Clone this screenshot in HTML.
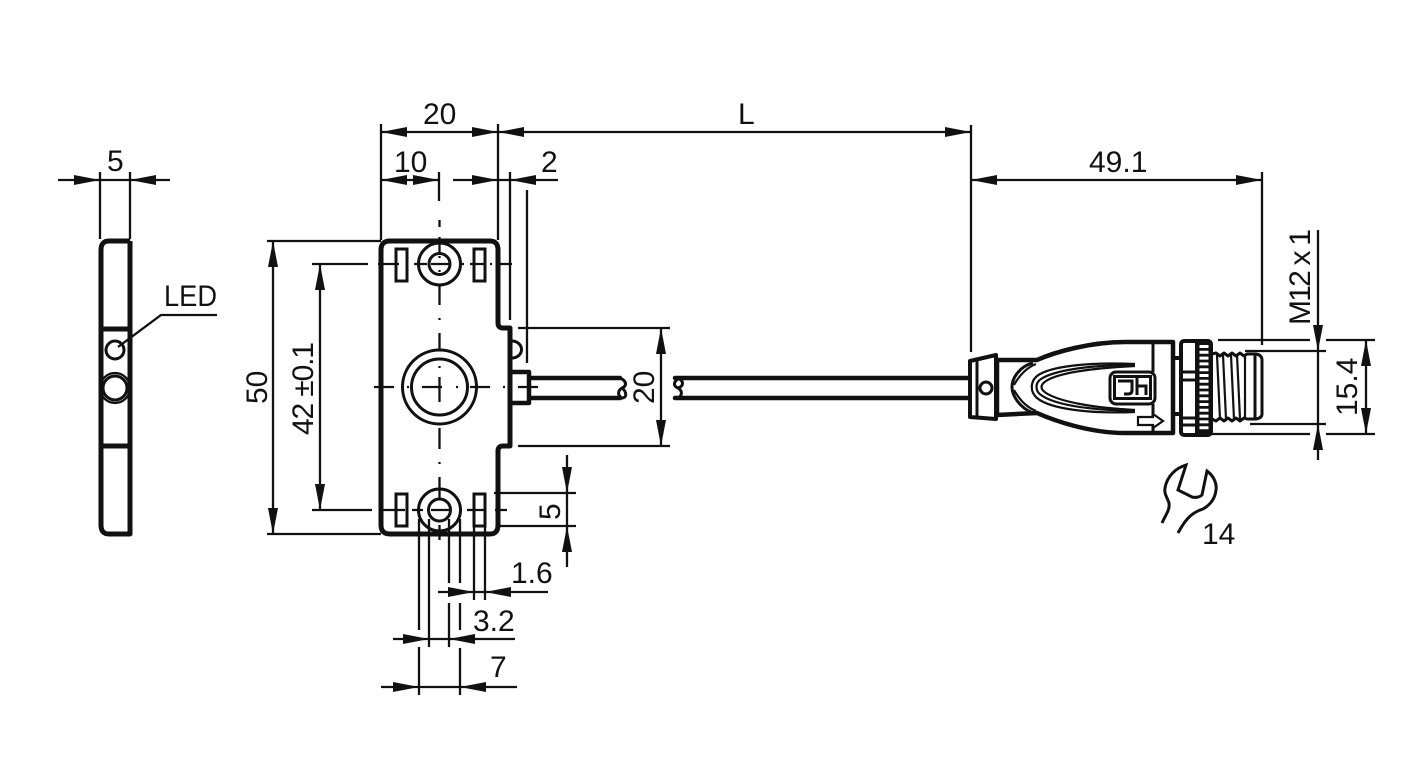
<!DOCTYPE html>
<html><head><meta charset="utf-8"><style>
html,body{margin:0;padding:0;background:#fff}
svg{display:block}
text{font-family:"Liberation Sans",sans-serif;font-size:30px;fill:#111}
.d{stroke:#111;stroke-width:2.3;fill:none}
.c{stroke:#111;stroke-width:2.3;fill:none}
.t{stroke:#111;stroke-width:4.5;fill:none;stroke-linejoin:round;stroke-linecap:round}
.b{stroke:#111;stroke-width:5;fill:none;stroke-linejoin:round}
.m{stroke:#111;stroke-width:3;fill:none}
.w{stroke:#111;stroke-width:4;fill:#fff;stroke-linejoin:round}
.l{stroke:#111;stroke-width:2.2;fill:none}
</style></head><body>
<svg width="1416" height="781" viewBox="0 0 1416 781" xmlns="http://www.w3.org/2000/svg">
<defs><path id="a" d="M0 0L-26 -5L-26 5Z" fill="#111"/></defs>
<rect width="1416" height="781" fill="#fff"/>

<!-- left side view -->
<path class="b" d="M130 241H109Q101 241 101 250V525Q101 534 109 534H130V241"/>
<path class="b" d="M101 329H130M101 446H130"/>
<path class="d" d="M100 172V239M130 172V239M58 180H170"/>
<use href="#a" transform="translate(100,180)"/><use href="#a" transform="translate(130,180) rotate(180)"/>
<circle class="m" cx="115" cy="350" r="9"/>
<circle class="d" cx="115" cy="388" r="15"/><circle class="m" cx="115" cy="388" r="12"/>
<path class="d" d="M118 347L161 315H217"/>
<text x="107" y="171">5</text>
<text x="164" y="306" textLength="53" lengthAdjust="spacingAndGlyphs">LED</text>

<!-- main body -->
<path class="b" d="M390 241H490Q498 241 498 250V323Q498 328 503 328H510V446H503Q498 446 498 451V525Q498 534 490 534H390Q381 534 381 525V250Q381 241 390 241Z"/>
<rect class="m" x="396" y="249" width="11" height="32"/><rect class="m" x="474" y="249" width="11" height="32"/>
<rect class="m" x="396" y="494" width="11" height="32"/><rect class="m" x="474" y="494" width="11" height="32"/>
<circle class="m" cx="439.5" cy="264" r="21"/><circle class="m" cx="439.5" cy="264" r="10.5"/>
<circle class="m" cx="439.5" cy="510" r="21"/><circle class="m" cx="439.5" cy="510" r="11"/>
<circle class="m" cx="439.5" cy="387" r="37"/><circle class="m" cx="439.5" cy="387" r="28"/>
<!-- centre lines -->
<path class="c" d="M439.5 220V227M439.5 237V253M439.5 256V258M439.5 270V272M439.5 286V305M439.5 318V320M439.5 333V351M439.5 366V368M439.5 377V402M439.5 428V449M439.5 462V464M439.5 477V498M439.5 525V540"/>
<path class="c" d="M312 264H368M378 264H399M414 264H427M431 264H450M462 264H464M470 264H486M490 264H492M500 264H512"/>
<path class="c" d="M312 510H372M383 510H405M412 510H423M431 510H450M467 510H485M495 510H497M498 510H507"/>
<path class="c" d="M374 387H394M407 387H409M422 387H442M456 387H458M470 387H490M503 387H505M518 387H538"/>
<!-- led bump and connector -->
<path class="m" d="M512 341A9.5 8.5 0 0 1 512 358"/>
<path class="t" d="M511 372H529V403H511"/>
<path class="t" d="M529 378H620M529 398H620M675 378H970M675 398H970"/>
<path class="m" d="M620 378C627 381 627 386 622 388C617 391 618 396 622 398C627 398 627 392 622 388"/>
<path class="m" d="M680 378C673 381 673 386 678 388C683 391 682 396 678 398M678 378C684 381 684 386 678 388"/>

<!-- dimensions top -->
<path class="d" d="M381 124V240M498 124V240M971 125V352"/>
<path class="d" d="M381 132H971"/>
<use href="#a" transform="translate(381,132) rotate(180)"/>
<use href="#a" transform="translate(498,132)"/><use href="#a" transform="translate(498,132) rotate(180)"/>
<use href="#a" transform="translate(971,132)"/>
<path class="d" d="M381 180H439M453 180H558M439 172V201M510 172V320M527 190V363"/>
<use href="#a" transform="translate(381,180) rotate(180)"/><use href="#a" transform="translate(439,180)"/>
<use href="#a" transform="translate(498,180)"/><use href="#a" transform="translate(510,180) rotate(180)"/>
<text x="423" y="124">20</text><text x="394" y="172">10</text><text x="541" y="172">2</text><text x="738" y="124">L</text>

<!-- 50 / 42 -->
<path class="d" d="M267 241H381M267 534H381M273 241V534M320 264V510"/>
<use href="#a" transform="translate(273,241) rotate(-90)"/><use href="#a" transform="translate(273,534) rotate(90)"/>
<use href="#a" transform="translate(320,264) rotate(-90)"/><use href="#a" transform="translate(320,510) rotate(90)"/>
<text transform="translate(267,404) rotate(-90)">50</text>
<text transform="translate(313,435) rotate(-90)" textLength="93" lengthAdjust="spacing">42 ±0.1</text>

<!-- 20 right -->
<path class="d" d="M518 328H670M518 446H670M661 328V446"/>
<use href="#a" transform="translate(661,328) rotate(-90)"/><use href="#a" transform="translate(661,446) rotate(90)"/>
<text transform="translate(654,404) rotate(-90)">20</text>

<!-- bottom dims -->
<path class="d" d="M567 455V567M494 493H576M498 526H576"/>
<use href="#a" transform="translate(567,493) rotate(90)"/><use href="#a" transform="translate(567,526) rotate(-90)"/>
<text transform="translate(560,520) rotate(-90)">5</text>
<path class="d" d="M419 519V630M419 647V695M429 519V647M449 519V583M449 603V647M460 519V583M460 603V630M460 648V695M474 526V600M485 526V600"/>
<path class="d" d="M438 592H548M393 639H515M381 687H517"/>
<use href="#a" transform="translate(474,592)"/><use href="#a" transform="translate(485,592) rotate(180)"/>
<use href="#a" transform="translate(429,639)"/><use href="#a" transform="translate(449,639) rotate(180)"/>
<use href="#a" transform="translate(419,687)"/><use href="#a" transform="translate(460,687) rotate(180)"/>
<text x="511" y="583">1.6</text><text x="473" y="631">3.2</text><text x="490" y="677">7</text>

<!-- connector body -->
<path class="t" d="M997 360H1037C1055 352 1090 342 1125 342H1173V433H1125C1090 433 1055 421 1037 413L997 415Z"/>
<path class="w" d="M970 361L996 355V419L970 417Z"/>
<path class="m" d="M977 360V417"/>
<circle class="m" cx="986" cy="388" r="6"/>
<path class="m" d="M1033 363C1020 366 1012 378 1012 387C1012 396 1020 408 1033 413"/>
<path class="l" d="M1014 385C1019 376 1026 368 1036 364M1014 390C1019 399 1026 407 1036 411"/>
<path class="l" d="M1135 364C1090 362 1050 366 1037 376C1030 382 1030 392 1037 398C1050 409 1090 414 1135 412"/>
<path class="l" d="M1135 365C1090 365 1055 370 1041 379C1035 383 1035 391 1041 395C1055 405 1090 410 1135 411"/>
<path class="l" d="M1135 366C1095 368 1060 372 1046 381C1040 385 1040 389 1046 393C1060 402 1095 408 1135 410"/>
<path class="m" d="M1153 342V372M1153 404V433"/>
<rect x="1110" y="372" width="45" height="32" rx="6" fill="#fff" stroke="#111" stroke-width="3"/>
<rect x="1114.5" y="376.5" width="36" height="22" fill="#fff" stroke="#111" stroke-width="3"/>
<path stroke="#111" stroke-width="3" fill="none" d="M1118 381H1132V390Q1132 394 1128 394H1124M1137 378V395M1137 386H1146V395"/>
<path stroke="#111" stroke-width="2.2" fill="#fff" d="M1138 417H1153V414L1163 421L1153 428V425H1138Z"/>

<!-- nut and thread -->
<path class="m" style="stroke-width:4" d="M1173 358H1180M1173 414H1180"/>
<rect x="1181" y="341" width="30" height="94" rx="3" fill="#fff" stroke="#111" stroke-width="4"/>
<rect x="1195" y="340" width="17" height="96" rx="3" fill="#111"/>
<line x1="1204" y1="345" x2="1204" y2="431" stroke="#fff" stroke-width="9" stroke-dasharray="3 2.8"/>
<path class="m" d="M1181 372H1195M1181 380H1195M1181 418H1195M1181 425H1195"/>
<path class="t" style="stroke-width:3" d="M1212 354L1216 353L1220 356L1224 353L1228 356L1232 353L1236 356L1240 353L1244 356L1247 354H1256Q1262 355 1262 360V414Q1262 418 1256 419H1247L1244 418L1240 421L1236 418L1232 421L1228 418L1224 421L1220 418L1216 421L1212 419"/>
<path class="l" d="M1217 355L1220 419M1223 355L1226 419M1231 355L1234 419M1237 355L1240 419M1245 355V419"/>
<path stroke="#111" stroke-width="3" fill="none" d="M1255 355V419"/>

<!-- right dims -->
<path class="d" d="M971 180H1262M1262 172V345"/>
<use href="#a" transform="translate(971,180) rotate(180)"/><use href="#a" transform="translate(1262,180)"/>
<text x="1089" y="172">49.1</text>
<path class="d" d="M1218 340H1310M1326 340H1375M1212 434H1310M1326 434H1375M1245 351H1326M1250 424H1326"/>
<path class="d" d="M1318 230V460M1366 340V434"/>
<use href="#a" transform="translate(1318,351) rotate(90)"/><use href="#a" transform="translate(1318,424) rotate(-90)"/>
<use href="#a" transform="translate(1366,340) rotate(-90)"/><use href="#a" transform="translate(1366,434) rotate(90)"/>
<text transform="translate(1310,325) rotate(-90)" textLength="96" lengthAdjust="spacing">M12 x 1</text>
<text transform="translate(1357,416) rotate(-90)">15.4</text>

<!-- wrench -->
<path class="m" d="M1162 523C1166 514 1170 510 1169 503C1167 497 1164 494 1165 488C1167 476 1176 468 1186 465L1178 490L1192 497C1196 498 1200 497 1202 495L1207 471C1214 476 1217 484 1216 490C1215 499 1210 505 1203 509C1190 513 1184 522 1178 533"/>
<text x="1202" y="544">14</text>
</svg>
</body></html>
